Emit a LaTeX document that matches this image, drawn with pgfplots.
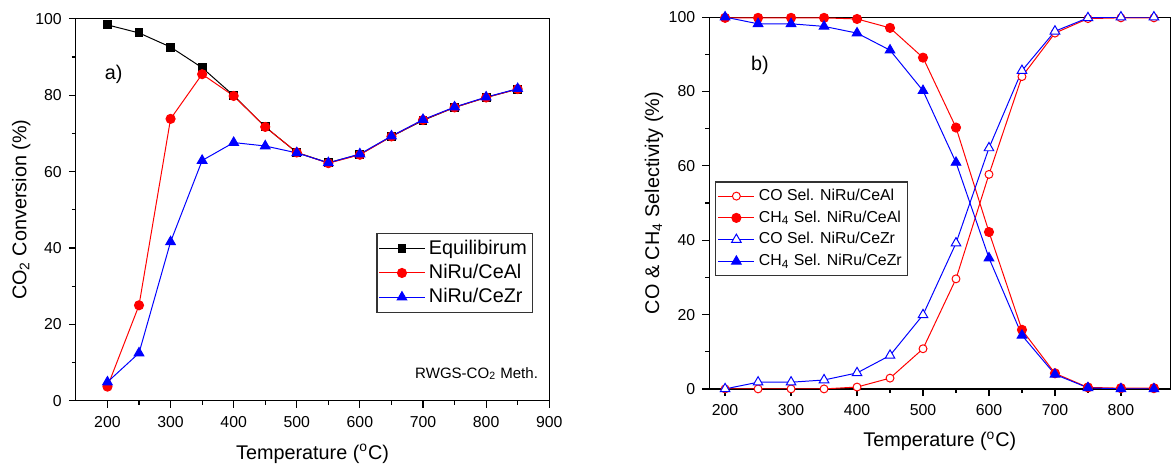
\documentclass[border=0pt]{standalone}
\usepackage{fontspec}
\setmainfont{Liberation Sans}
\usepackage{pgfplots}
\pgfplotsset{compat=1.18}

% CO2 conversion vs temperature
\pgfplotstableread{
T    eq    ceal  cezr
200  98.4  3.7   4.9
250  96.3  25.0  12.5
300  92.6  73.8  41.6
350  87.2  85.5  62.9
400  79.9  79.8  67.6
450  71.7  71.7  66.7
500  65.0  65.0  64.9
550  62.3  62.2  62.3
600  64.5  64.4  64.6
650  69.2  69.2  69.3
700  73.4  73.5  73.6
750  76.8  76.8  76.9
800  79.4  79.4  79.5
850  81.6  81.6  81.7
}\conversiontable

% CO and CH4 selectivity vs temperature
\pgfplotstableread{
T    coal  chal  cozr  chzr
200  0.0   99.8  0.0   100.0
250  0.0   99.8  1.8   98.2
300  0.0   99.8  1.8   98.2
350  0.0   99.8  2.4   97.5
400  0.5   99.5  4.3   95.7
450  2.9   97.1  9.0   91.1
500  10.8  89.1  19.9  80.2
550  29.6  70.3  39.2  60.9
600  57.7  42.2  64.8  35.2
650  84.0  15.9  85.6  14.4
700  95.7  4.2   96.2  3.9
750  99.6  0.4   99.8  0.3
800  99.8  0.2   100.0 0.0
850  99.8  0.2   100.0 0.0
}\selectivitytable

\pgfplotsset{
  originstyle/.style={
    scale only axis,
    axis line style={line width=0.6pt},
    tick style={line width=0.6pt, black},
    tick align=outside,
    xtick pos=bottom, ytick pos=left,
    major tick length=3.6pt, minor tick length=2pt,
    minor x tick num=1, minor y tick num=1,
    ymin=0, ymax=100, ytick={0,20,...,100},
    tick label style={font=\fontsize{8}{9.6}\selectfont},
    xticklabel style={yshift=-0.8pt},
    /pgf/number format/assume math mode=true,
    label style={font=\fontsize{10}{12}\selectfont},
    xlabel style={anchor=base},
    ylabel style={anchor=base},
  },
}

\begin{document}
\begin{tikzpicture}
% ---- a) CO2 conversion ----
\begin{axis}[originstyle,
  at={(38.35pt,31pt)}, anchor=south west,
  width=239.15pt, height=193pt,
  xmin=150, xmax=900, xtick={200,300,...,900},
  xlabel={Temperature (\textsuperscript{o}C)},
  ylabel={CO\textsubscript{2} Conversion (\%)},
  xlabel style={at={(axis description cs:0.5,-0.1528)}},
  ylabel style={at={(axis description cs:-0.1045,0.5)}},
  legend style={at={(0.9666,0.4404)}, anchor=north east,
    draw=black!80, line width=0.6pt,
    font=\fontsize{10}{12}\selectfont,
    inner xsep=1pt, inner ysep=1.5pt, row sep=-0.5pt,
    cells={anchor=west}},
  legend image code/.code={\draw[mark repeat=2,mark phase=2,#1]
    plot coordinates {(0pt,0pt)(11.4pt,0pt)(22.8pt,0pt)};},
]
\addplot[black, line width=0.5pt, mark=square*, mark size=2pt,
  mark options={fill=black}] table[x=T,y=eq] {\conversiontable};
\addlegendentry{Equilibirum}
\addplot[red, line width=0.5pt, mark=*, mark size=2.3pt,
  mark options={fill=red}] table[x=T,y=ceal] {\conversiontable};
\addlegendentry{NiRu/CeAl}
\addplot[blue, line width=0.5pt, mark=triangle*, mark size=2.8pt,
  mark options={fill=blue}] table[x=T,y=cezr] {\conversiontable};
\addlegendentry{NiRu/CeZr}
\node[font=\fontsize{10}{12}\selectfont] at (axis description cs:0.0798,0.855) {a)};
\node[font=\fontsize{7.6}{9}\selectfont, anchor=base east, inner sep=0pt]
  at (axis description cs:0.977,0.0596) {RWGS-CO\textsubscript{2} Meth.};
\end{axis}

% ---- b) selectivity ----
\begin{axis}[originstyle,
  at={(358.35pt,37pt)}, anchor=south west,
  width=233pt, height=187.85pt,
  xmin=176, xmax=875, xtick={200,300,...,900},
  xlabel={Temperature (\textsuperscript{o}C)},
  ylabel={CO \& CH\textsubscript{4} Selectivity (\%)},
  xlabel style={at={(axis description cs:0.5,-0.1544)}},
  ylabel style={at={(axis description cs:-0.1086,0.5)}},
  legend style={at={(0.0129,0.5582)}, anchor=north west,
    draw=black!80, line width=0.6pt,
    font=\fontsize{8}{9.6}\selectfont,
    inner xsep=1pt, inner ysep=1.5pt, row sep=-0.3pt,
    cells={anchor=west}},
  legend image code/.code={\draw[mark repeat=2,mark phase=2,#1]
    plot coordinates {(0pt,0pt)(9.15pt,0pt)(18.3pt,0pt)};},
]
\addplot[red, line width=0.5pt, mark=*, mark size=2pt,
  mark options={fill=white}] table[x=T,y=coal] {\selectivitytable};
\addlegendentry{CO Sel. NiRu/CeAl}
\addplot[red, line width=0.5pt, mark=*, mark size=2.3pt,
  mark options={fill=red}] table[x=T,y=chal] {\selectivitytable};
\addlegendentry{CH\textsubscript{4} Sel. NiRu/CeAl}
\addplot[blue, line width=0.5pt, mark=triangle*, mark size=2.8pt,
  mark options={fill=white}] table[x=T,y=cozr] {\selectivitytable};
\addlegendentry{CO Sel. NiRu/CeZr}
\addplot[blue, line width=0.5pt, mark=triangle*, mark size=2.8pt,
  mark options={fill=blue}] table[x=T,y=chzr] {\selectivitytable};
\addlegendentry{CH\textsubscript{4} Sel. NiRu/CeZr}
\node[font=\fontsize{10}{12}\selectfont] at (axis description cs:0.110,0.870) {b)};
\end{axis}
\path[use as bounding box] (0,0) rectangle (585.5pt,233.5pt);
\end{tikzpicture}
\end{document}
